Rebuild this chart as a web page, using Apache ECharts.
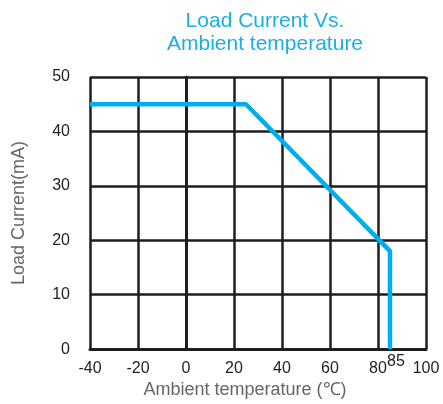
<!DOCTYPE html>
<html><head><meta charset="utf-8">
<script src="https://cdn.jsdelivr.net/npm/echarts@6/dist/echarts.min.js"></script>
<style>html,body{margin:0;padding:0;background:#fff}#c{width:443px;height:404px}</style>
</head><body><div id="c"></div>
<script>
const temps = [-40, 25, 85, 85];
const currents = [45, 45, 18, 0];
const xTicks = [-40, 100, 20];
const yTicks = [0, 50, 10];
const markLabel = '85';

const chart = echarts.init(document.getElementById('c'), null, {renderer: 'canvas'});
const data = temps.map((t, i) => [t, currents[i]]);
chart.setOption({
  animation: false,
  title: {
    text: 'Load Current Vs.\nAmbient temperature',
    left: 260, top: 5, textAlign: 'center',
    textStyle: {color: '#1AAFE8', fontSize: 21, fontWeight: 'normal', fontFamily: 'Liberation Sans, Arial', lineHeight: 23}
  },
  grid: {left: 90, right: 17, top: 77, bottom: 53, containLabel: false},
  xAxis: {
    type: 'value', min: xTicks[0], max: xTicks[1], interval: xTicks[2],
    name: 'Ambient temperature (℃)', nameLocation: 'middle', nameGap: 30,
    nameTextStyle: {color: '#666', fontSize: 18, fontFamily: 'Liberation Sans, Arial', padding: [0, 26, 0, 0]},
    axisLine: {show: true, lineStyle: {color: '#1e1e1e', width: 3}},
    axisTick: {show: false},
    axisLabel: {color: '#222', fontSize: 16, margin: 11, fontFamily: 'Liberation Sans, Arial'},
    splitLine: {show: true, lineStyle: {color: '#1e1e1e', width: 2.5}}
  },
  yAxis: {
    type: 'value', min: yTicks[0], max: yTicks[1], interval: yTicks[2],
    name: 'Load Current(mA)', nameLocation: 'middle', nameGap: 62, nameRotate: 90,
    nameTextStyle: {color: '#666', fontSize: 18, fontFamily: 'Liberation Sans, Arial'},
    axisLine: {show: true, lineStyle: {color: '#1e1e1e', width: 3}},
    axisTick: {show: false},
    axisLabel: {color: '#222', fontSize: 16, margin: 20, fontFamily: 'Liberation Sans, Arial'},
    splitLine: {show: true, lineStyle: {color: '#1e1e1e', width: 2.5}}
  },
  series: [{
    type: 'line', data: data, symbol: 'none', z: 5,
    lineStyle: {color: '#00AEEF', width: 4.5},
    markPoint: {
      symbol: 'rect', symbolSize: 0,
      label: {show: true, formatter: markLabel, color: '#222', fontSize: 16, fontFamily: 'Liberation Sans, Arial', offset: [6, 12]},
      data: [{coord: [temps[2], currents[3]]}]
    }
  }]
});
</script></body></html>
